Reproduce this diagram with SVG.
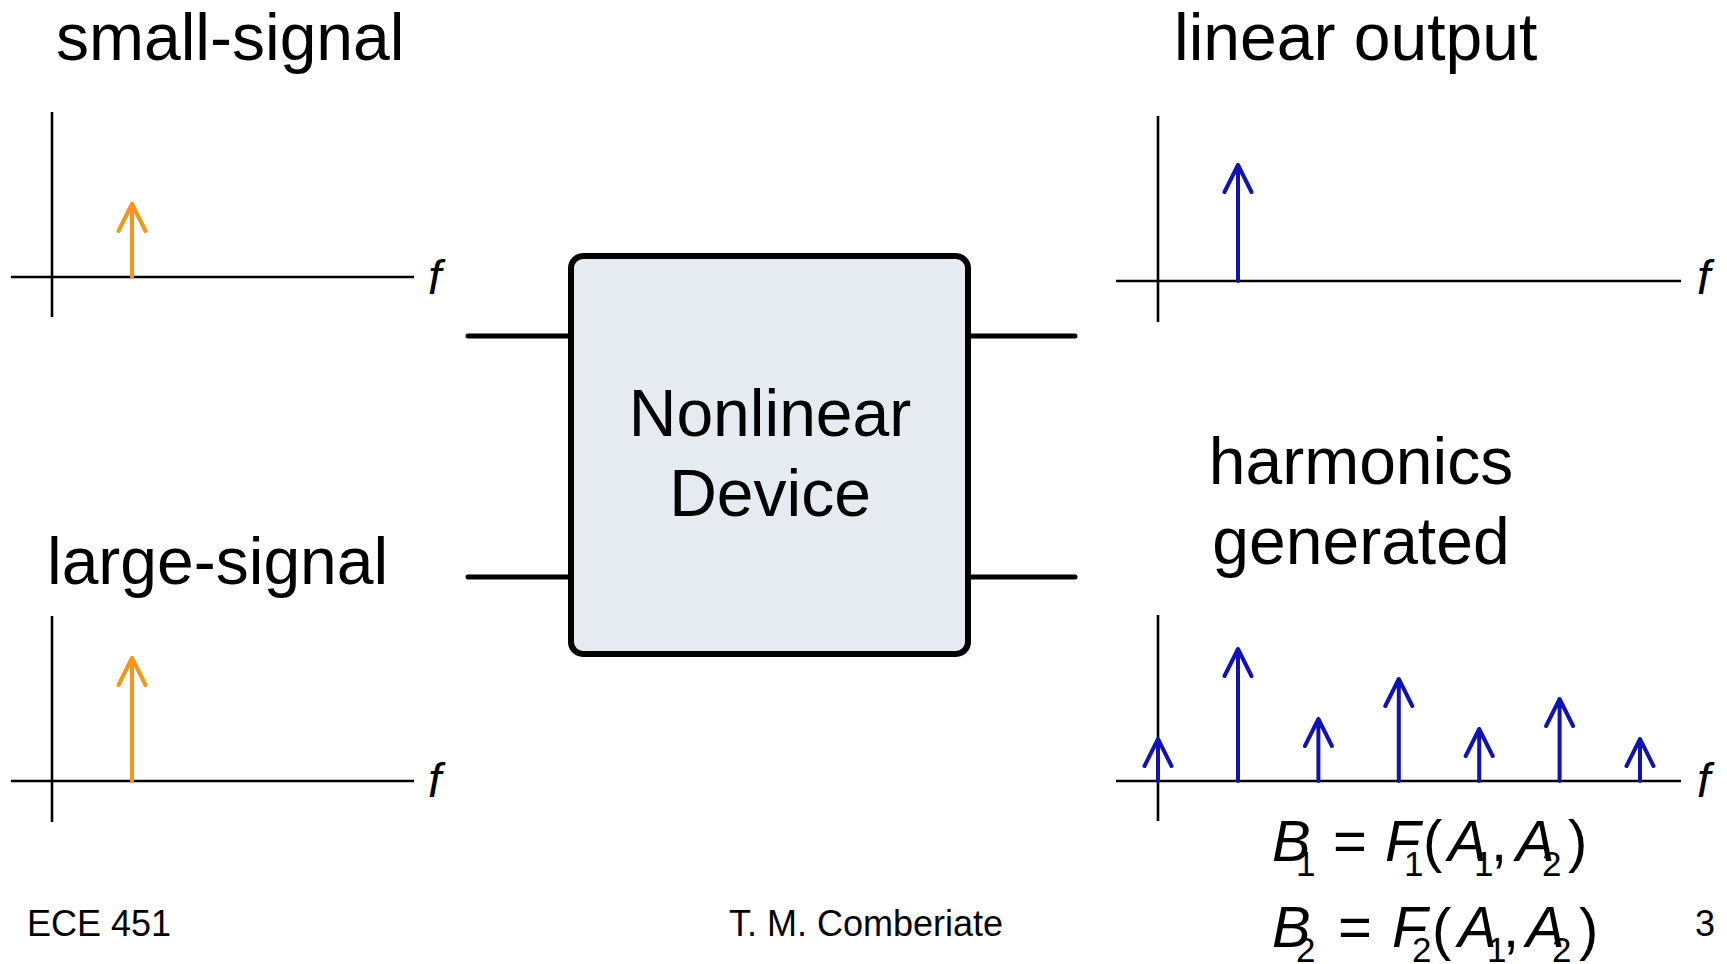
<svg xmlns="http://www.w3.org/2000/svg" width="1727" height="964" viewBox="0 0 1727 964">
<style>
.t{font-family:"Liberation Sans",Arial,sans-serif;fill:#000}
.h{font-size:66px}
.f{font-size:48px;font-style:italic}
.ft{font-size:36px}
.m{font-size:58px}
.mi{font-size:58px;font-style:italic}
.s{font-size:35px}
.ax{stroke:#000;stroke-width:2.6;fill:none}
.ao{stroke:#F7941D;stroke-width:4;fill:none;stroke-linecap:round;stroke-linejoin:round}
.ab{stroke:#1212B0;stroke-width:4;fill:none;stroke-linecap:round;stroke-linejoin:round}
.ld{stroke:#000;stroke-width:5;stroke-linecap:round}
</style>
<rect width="1727" height="964" fill="#fff"/>

<g id="small-signal">
<text class="t h" x="56" y="60">small-signal</text>
<line class="ax" x1="52" y1="112" x2="52" y2="317"/>
<line class="ax" x1="11" y1="277" x2="414" y2="277"/>
<path class="ao" d="M132,277 V204 M118.5,231 L132,204 L145.5,231"/>
<text class="t f" x="428" y="294">f</text>
</g>

<g id="large-signal">
<text class="t h" x="47" y="584">large-signal</text>
<line class="ax" x1="52" y1="616" x2="52" y2="822"/>
<line class="ax" x1="11" y1="781" x2="414" y2="781"/>
<path class="ao" d="M132,781 V658 M118.5,685 L132,658 L145.5,685"/>
<text class="t f" x="428" y="797">f</text>
</g>

<g id="device">
<rect x="571" y="256" width="397" height="398" rx="12" fill="#E6EAF1" stroke="#000" stroke-width="6"/>
<text class="t h" x="770" y="436" text-anchor="middle">Nonlinear</text>
<text class="t h" x="770" y="516" text-anchor="middle">Device</text>
</g>

<g id="connectors">
<line class="ld" x1="468" y1="336" x2="569" y2="336"/>
<line class="ld" x1="468" y1="577" x2="569" y2="577"/>
<line class="ld" x1="970" y1="336" x2="1075" y2="336"/>
<line class="ld" x1="970" y1="577" x2="1075" y2="577"/>
</g>

<g id="linear-output">
<text class="t h" x="1174" y="60">linear output</text>
<line class="ax" x1="1158" y1="116" x2="1158" y2="322"/>
<line class="ax" x1="1116" y1="281" x2="1681" y2="281"/>
<path class="ab" d="M1238,281 V165 M1224.5,192 L1238,165 L1251.5,192"/>
<text class="t f" x="1697" y="294">f</text>
</g>

<g id="harmonics">
<text class="t h" x="1361" y="484" text-anchor="middle">harmonics</text>
<text class="t h" x="1361" y="564" text-anchor="middle">generated</text>
<line class="ax" x1="1158" y1="615" x2="1158" y2="821"/>
<line class="ax" x1="1116" y1="781" x2="1681" y2="781"/>
<path class="ab" d="M1158,781 V739 M1144.5,766 L1158,739 L1171.5,766"/>
<path class="ab" d="M1238,781 V649 M1224.5,676 L1238,649 L1251.5,676"/>
<path class="ab" d="M1318.4,781 V719 M1304.9,746 L1318.4,719 L1331.9,746"/>
<path class="ab" d="M1398.8,781 V679 M1385.3,706 L1398.8,679 L1412.3,706"/>
<path class="ab" d="M1479.2,781 V729 M1465.7,756 L1479.2,729 L1492.7,756"/>
<path class="ab" d="M1559.6,781 V699 M1546.1,726 L1559.6,699 L1573.1,726"/>
<path class="ab" d="M1640,781 V739 M1626.5,766 L1640,739 L1653.5,766"/>
<text class="t f" x="1697" y="797">f</text>
</g>

<g id="equations">
<text class="t mi" x="1272" y="861">B</text>
<text class="t s" x="1296" y="876">1</text>
<text class="t m" x="1333" y="861">=</text>
<text class="t mi" x="1385" y="861">F</text>
<text class="t s" x="1404" y="876">1</text>
<text class="t m" x="1423" y="861">(</text>
<text class="t mi" x="1448" y="861">A</text>
<text class="t s" x="1474" y="876">1</text>
<text class="t m" x="1491" y="861">,</text>
<text class="t mi" x="1516" y="861">A</text>
<text class="t s" x="1542" y="876">2</text>
<text class="t m" x="1568" y="861">)</text>

<text class="t mi" x="1272" y="947">B</text>
<text class="t s" x="1296" y="962">2</text>
<text class="t m" x="1338" y="947">=</text>
<text class="t mi" x="1392" y="947">F</text>
<text class="t s" x="1412" y="962">2</text>
<text class="t m" x="1432" y="949" font-size="64">(</text>
<text class="t mi" x="1458" y="947">A</text>
<text class="t s" x="1487" y="962">1</text>
<text class="t m" x="1503" y="947">,</text>
<text class="t mi" x="1526" y="947">A</text>
<text class="t s" x="1552" y="962">2</text>
<text class="t m" x="1579" y="949" font-size="64">)</text>
</g>

<g id="footer">
<text class="t ft" x="27" y="936">ECE 451</text>
<text class="t ft" x="729" y="936">T. M. Comberiate</text>
<text class="t ft" x="1695" y="936">3</text>
</g>
</svg>
